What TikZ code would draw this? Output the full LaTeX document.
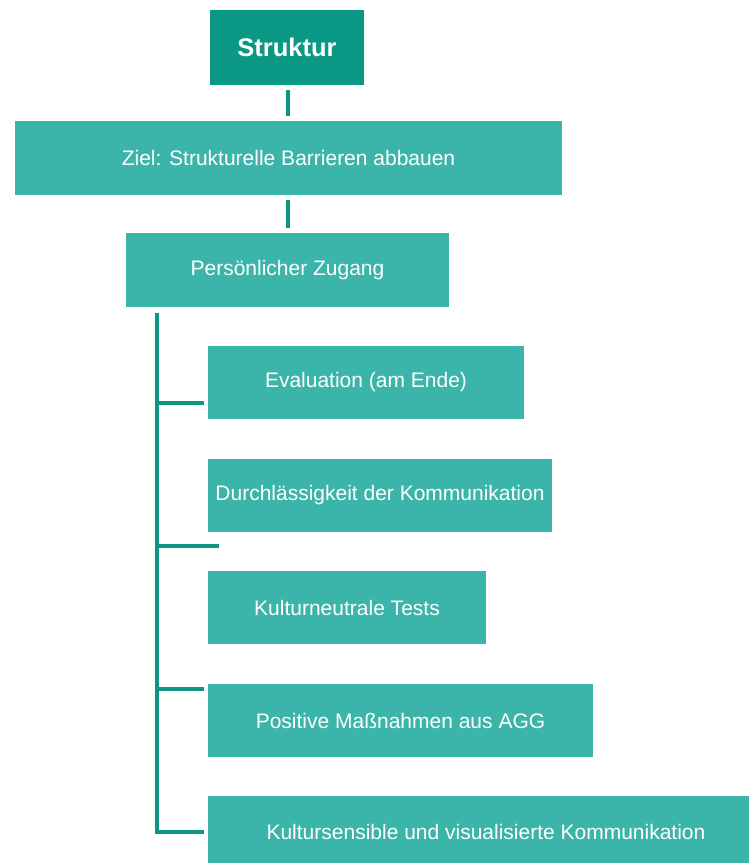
\documentclass[tikz,border=0pt]{standalone}
\usepackage{fontspec}
\setmainfont{Liberation Sans}
\definecolor{boxfill}{HTML}{3BB4AA}
\definecolor{darkteal}{HTML}{0A9783}
\begin{document}
\begin{tikzpicture}[x=1pt,y=-1pt,
  box/.style={fill=boxfill,draw=none,inner sep=0pt,text=white,font=\fontsize{21}{25}\selectfont},
  topbox/.style={fill=darkteal,draw=none,inner sep=0pt,text=white,font=\fontsize{25.5}{30}\selectfont\bfseries},
  conn/.style={draw=darkteal,line width=3.5pt}]
\useasboundingbox (0,0) rectangle (749,863);
\clip (0,0) rectangle (749,863);
\node[topbox,minimum width=154pt,minimum height=75pt] (s) at (287,47.5) {Struktur};
\node[box,minimum width=547pt,minimum height=74pt] (z) at (288.5,158) {Ziel: Strukturelle Barrieren abbauen};
\node[box,minimum width=323pt,minimum height=74pt] (p) at (287.5,270) {Persönlicher Zugang};
\node[box,minimum width=316pt,minimum height=73pt] (e) at (366,382.5) {Evaluation (am Ende)};
\node[box,minimum width=344pt,minimum height=73pt] (d) at (380,495.5) {Durchlässigkeit der Kommunikation};
\node[box,minimum width=278pt,minimum height=73pt] (k) at (347,607.5) {Kulturneutrale Tests};
\node[box,minimum width=385pt,minimum height=73pt] (m) at (400.5,720.5) {Positive Maßnahmen aus AGG};
\node[box,minimum width=560pt,minimum height=72pt,anchor=north west] (v) at (208,796) {};
\node[text=white,font=\fontsize{21}{25}\selectfont] (vt) at (486,832) {Kultursensible und visualisierte Kommunikation};
\coordinate (c1a) at (288,90); \coordinate (c1b) at (288,116);
\coordinate (c2a) at (288,200); \coordinate (c2b) at (288,228);
\draw[conn] (c1a) -- (c1b);
\draw[conn] (c2a) -- (c2b);
\coordinate (vt0) at (157,313);
\coordinate (b1) at (157,403); \coordinate (b2) at (157,546);
\coordinate (b3) at (157,689); \coordinate (b4) at (157,832);
\coordinate (b2e) at (219,546);
\draw[conn] (vt0) -- (b4) -- ([xshift=-4pt]b4 -| e.west);
\draw[conn] (b1) -- ([xshift=-4pt]b1 -| e.west);
\draw[conn] (b2) -- (b2e);
\draw[conn] (b3) -- ([xshift=-4pt]b3 -| m.west);
\end{tikzpicture}
\end{document}
